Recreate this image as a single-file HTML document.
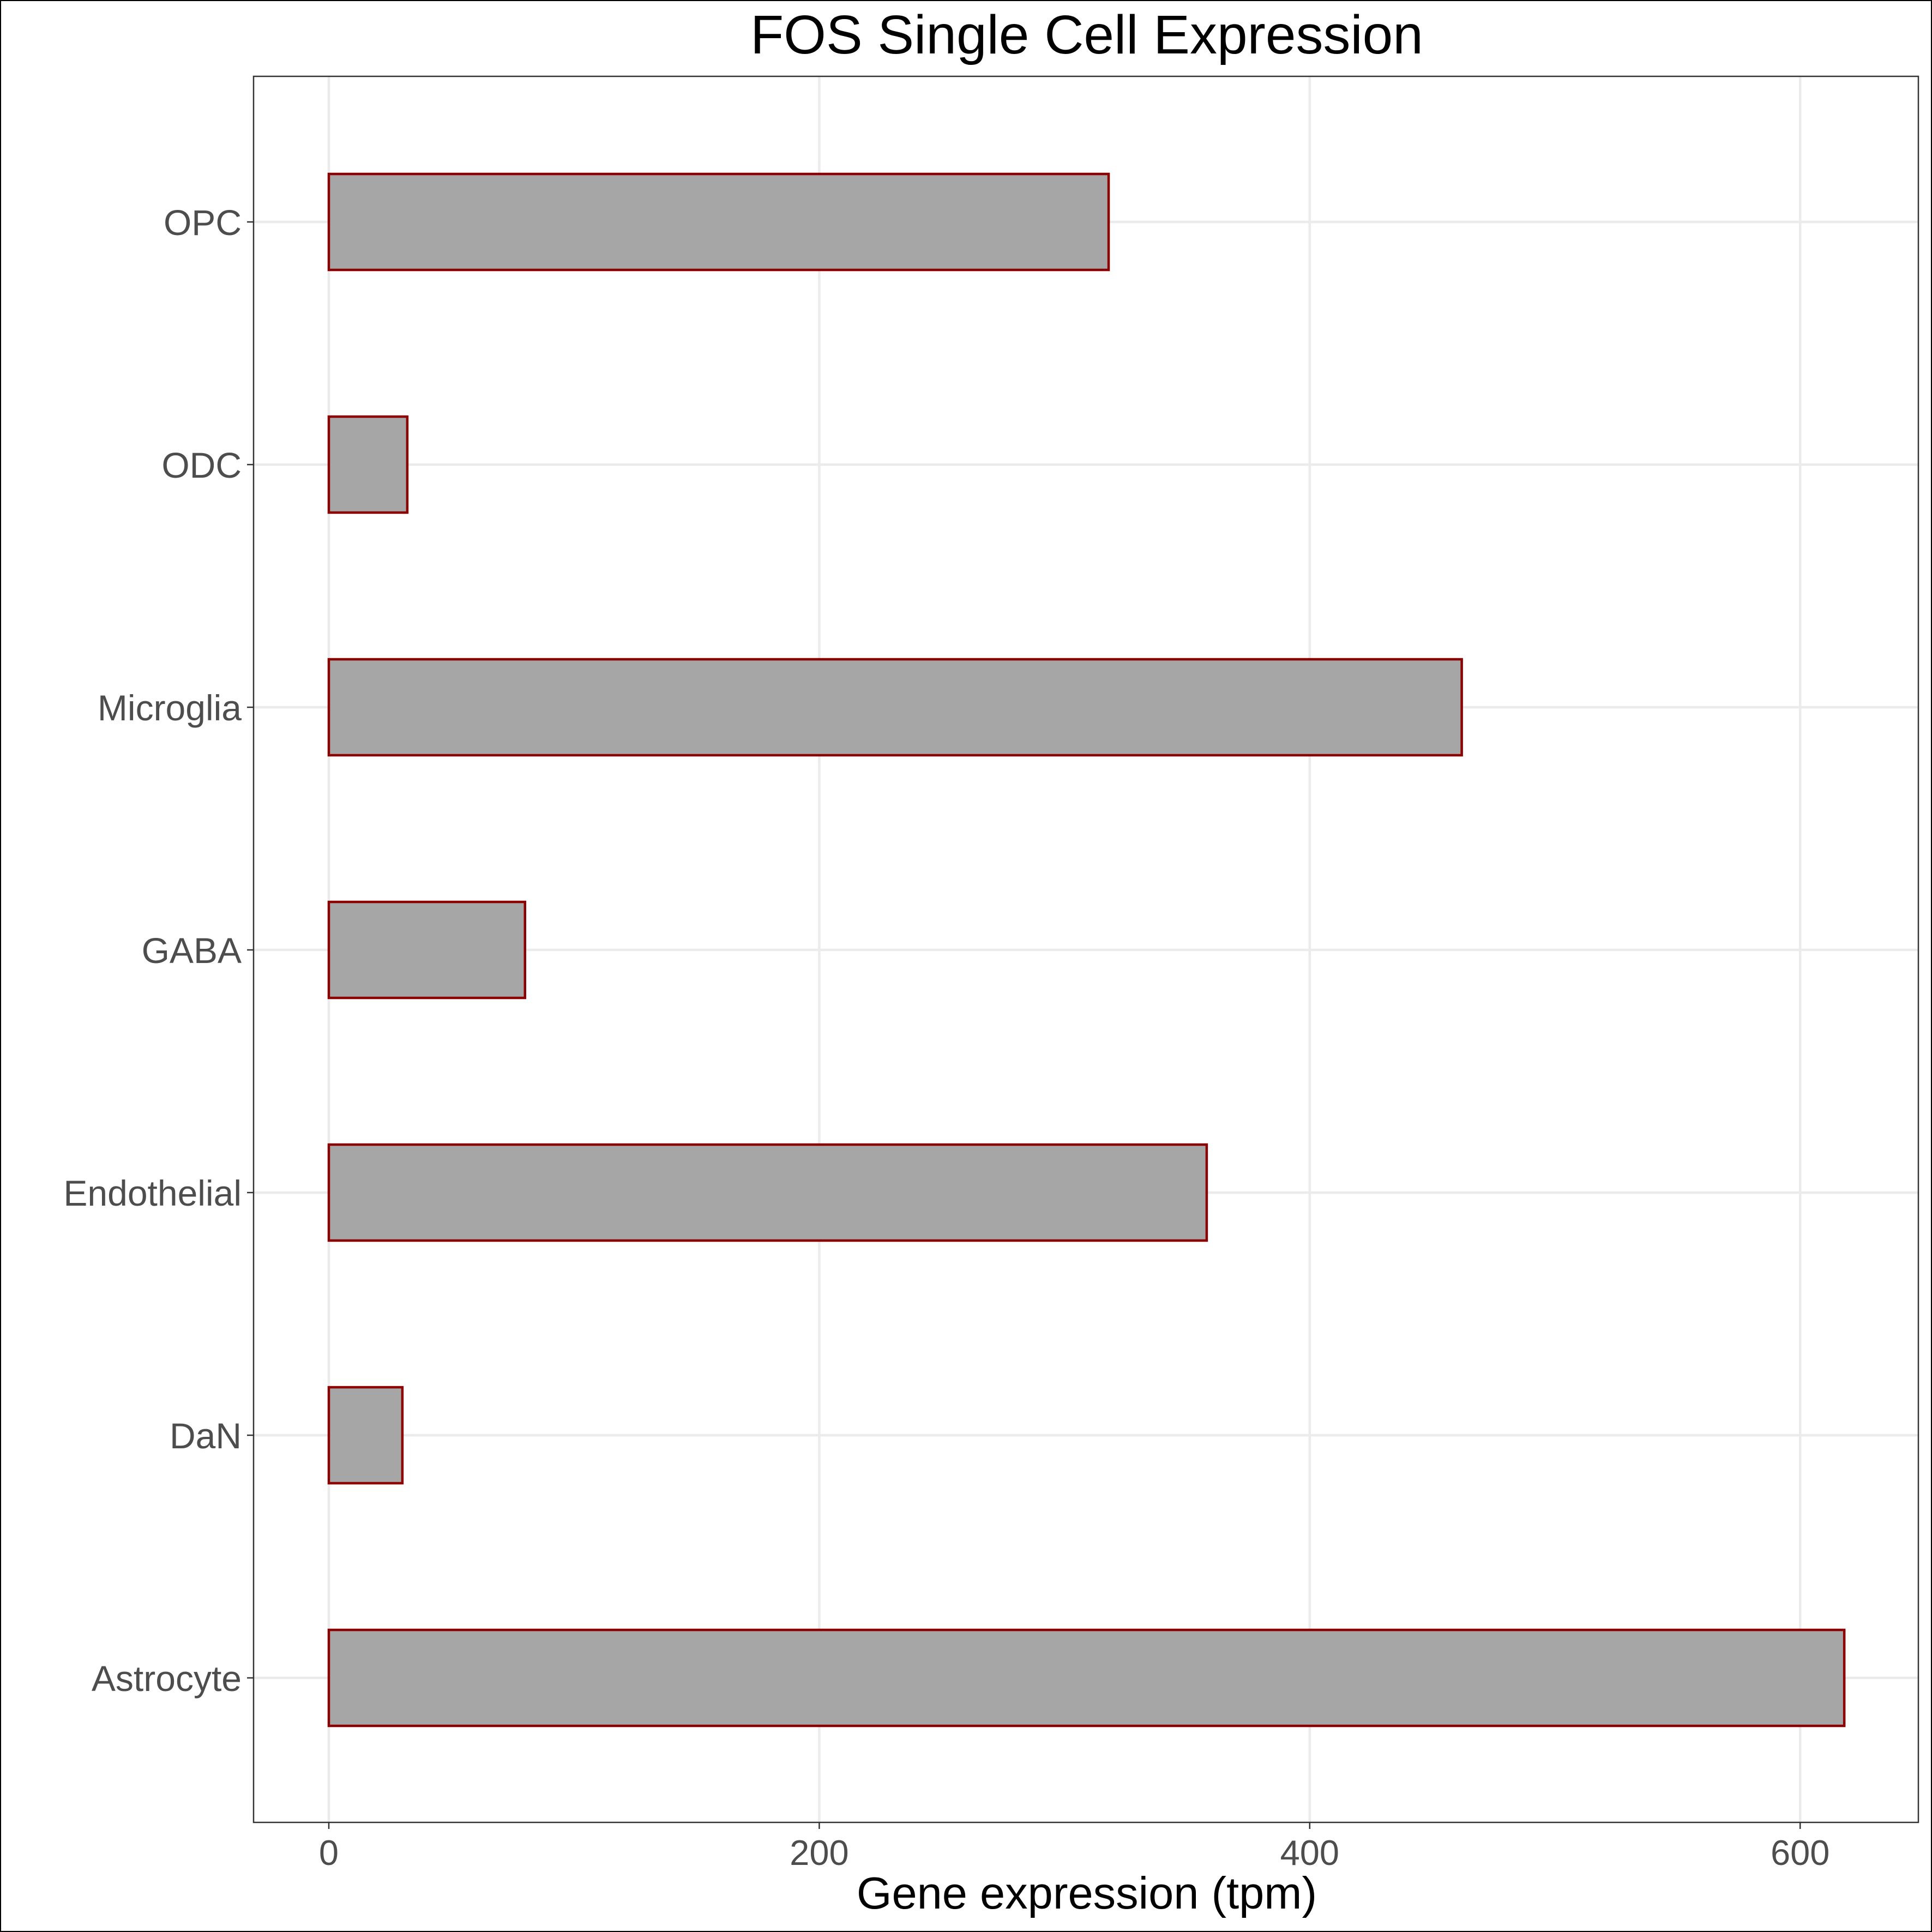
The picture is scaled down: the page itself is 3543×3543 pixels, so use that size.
<!DOCTYPE html>
<html><head><meta charset="utf-8"><style>
html,body{margin:0;padding:0;background:#fff}
svg{display:block}
text{font-family:"Liberation Sans",Arial,sans-serif}
</style></head><body>
<svg id="chart" width="3543" height="3543" viewBox="0 0 3543 3543" xmlns="http://www.w3.org/2000/svg">
<rect x="1" y="1" width="3541" height="3541" fill="#fff" stroke="#000" stroke-width="2"/>
<text x="1993" y="98" font-size="100" text-anchor="middle" fill="#000">FOS Single Cell Expression</text>
<g id="grid"></g>
<g id="bars"></g>
<rect x="465" y="140" width="3053" height="3202" fill="none" stroke="#333" stroke-width="2.5"/>
<g id="ticks"></g>
<text x="1993" y="3500" font-size="83" text-anchor="middle" fill="#000">Gene expression (tpm)</text>
</svg>
<script>
const categories = ["OPC","ODC","Microglia","GABA","Endothelial","DaN","Astrocyte"];
const values = [318, 32, 462, 80, 358, 30, 618];
const xTicks = [0, 200, 400, 600];

const NS = "http://www.w3.org/2000/svg";
const panel = {left:465, top:140, right:3518, bottom:3342};
function xScale(v){ return 603 + v * 4.497; }
function yScale(i){ return 407 + i * 445; }
const halfH = 88;

function mk(tag, attrs, parent){
  const e = document.createElementNS(NS, tag);
  for (const k in attrs) e.setAttribute(k, attrs[k]);
  parent.appendChild(e);
  return e;
}
const grid = document.getElementById("grid");
const bars = document.getElementById("bars");
const ticks = document.getElementById("ticks");

xTicks.forEach(t => {
  const x = xScale(t);
  const l = mk("line", {x1:x, x2:x, y1:panel.top, y2:panel.bottom, stroke:"#ebebeb", "stroke-width":4.5}, grid);
  
  
  const tk = mk("line", {x1:x, x2:x, y1:panel.bottom, y2:panel.bottom+12, stroke:"#333", "stroke-width":2.5}, ticks);
  
  
  const tx = mk("text", {x:x, y:3420, "font-size":65, "text-anchor":"middle", fill:"#4d4d4d"}, ticks);
  tx.textContent = t;
  
  
});

categories.forEach((c, i) => {
  const y = yScale(i);
  const l = mk("line", {x1:panel.left, x2:panel.right, y1:y, y2:y, stroke:"#ebebeb", "stroke-width":4.5}, grid);
  
  
  const x0 = xScale(0), x1 = xScale(values[i]);
  const r = mk("rect", {x:x0, y:y-halfH, width:x1-x0, height:2*halfH, fill:"#a6a6a6", stroke:"#8b0000", "stroke-width":4.5}, bars);
  
  
  const tk = mk("line", {x1:panel.left-12, x2:panel.left, y1:y, y2:y, stroke:"#333", "stroke-width":2.5}, ticks);
  
  
  const tx = mk("text", {x:443, y:y+24, "font-size":66, "text-anchor":"end", fill:"#4d4d4d"}, ticks);
  tx.textContent = c;
  
  
});
</script>
</body></html>
